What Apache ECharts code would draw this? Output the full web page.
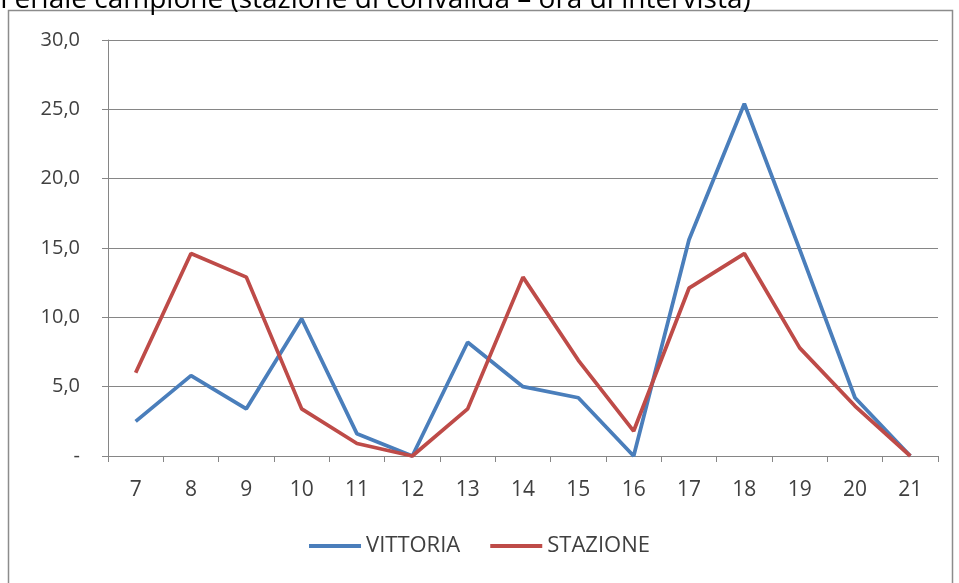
<!DOCTYPE html>
<html>
<head>
<meta charset="utf-8">
<script src="https://cdn.jsdelivr.net/npm/echarts@6/dist/echarts.min.js"></script>
<style>
html,body{margin:0;padding:0;background:#fff;}
#c{width:959px;height:583px;}
</style>
</head>
<body>
<div id="c"></div>
<script>
const categories = ['7','8','9','10','11','12','13','14','15','16','17','18','19','20','21'];
const vittoria = [2.5, 5.8, 3.4, 9.9, 1.6, 0.0, 8.2, 5.0, 4.2, 0.0, 15.6, 25.4, 14.9, 4.2, 0.0];
const stazione = [6.0, 14.6, 12.9, 3.4, 0.9, 0.0, 3.4, 12.9, 6.9, 1.8, 12.1, 14.6, 7.8, 3.6, 0.0];
const seriesNames = ['VITTORIA', 'STAZIONE'];
const titleText = 'Feriale campione (stazione di convalida – ora di intervista)';

const chart = echarts.init(document.getElementById('c'), null, {renderer: 'canvas'});
const font = 'Open Sans, Liberation Sans, sans-serif';
chart.setOption({
  animation: false,
  backgroundColor: '#ffffff',
  graphic: [
    {type: 'rect', shape: {x: 8.5, y: 10.5, width: 944, height: 600}, style: {fill: 'none', stroke: '#8c8c8c', lineWidth: 1.5}, z: 0},
    {type: 'text', left: 0, top: -14, style: {text: titleText, font: '28px ' + font, fill: '#000'}}
  ],
  grid: {left: 108, right: 21, top: 40, bottom: 127},
  legend: {
    bottom: 21, left: 'center',
    itemWidth: 52, itemHeight: 4, itemGap: 30,
    icon: 'rect',
    textStyle: {fontFamily: font, fontSize: 22, color: '#404040'},
    data: seriesNames
  },
  xAxis: {
    type: 'category',
    data: categories,
    boundaryGap: true,
    axisLine: {lineStyle: {color: '#868686', width: 1}},
    axisTick: {show: true, length: 6, lineStyle: {color: '#868686'}},
    axisLabel: {fontFamily: font, fontSize: 21, color: '#404040', margin: 24}
  },
  yAxis: {
    type: 'value',
    min: 0, max: 30, interval: 5,
    axisLine: {show: true, lineStyle: {color: '#868686', width: 1}},
    axisTick: {show: true, length: 6, lineStyle: {color: '#868686'}},
    splitLine: {lineStyle: {color: '#868686', width: 1}},
    axisLabel: {
      fontFamily: font, fontSize: 20, color: '#404040', margin: 28,
      formatter: v => v === 0 ? '-' : v.toFixed(1).replace('.', ',')
    }
  },
  series: [
    {name: seriesNames[0], type: 'line', data: vittoria, symbol: 'none', lineStyle: {color: '#4A7EBB', width: 3.75}, itemStyle: {color: '#4A7EBB'}},
    {name: seriesNames[1], type: 'line', data: stazione, symbol: 'none', lineStyle: {color: '#BE4B48', width: 3.75}, itemStyle: {color: '#BE4B48'}}
  ]
});
</script>
</body>
</html>
